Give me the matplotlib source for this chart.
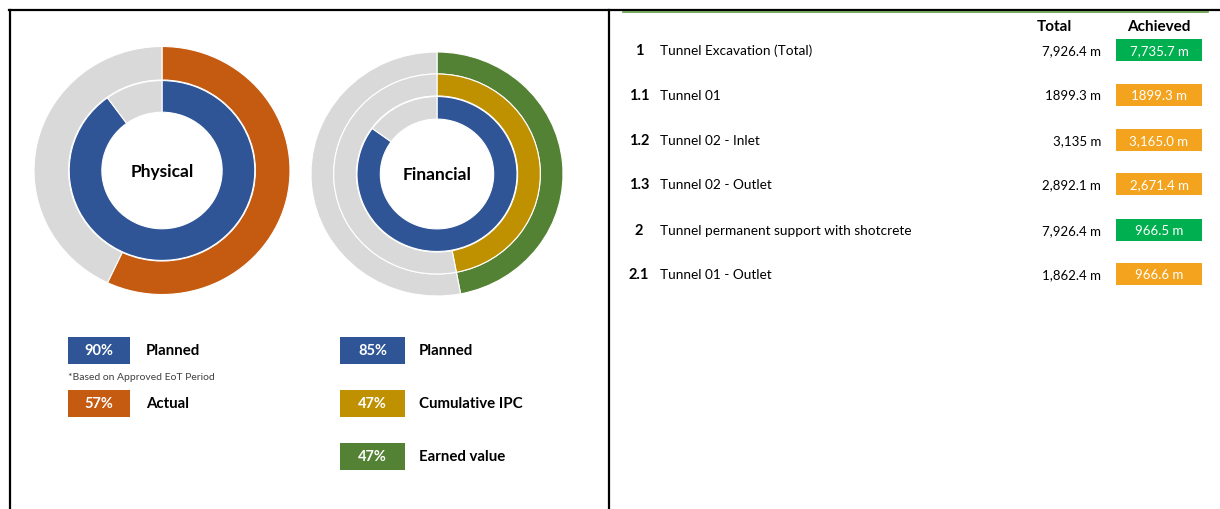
import matplotlib
matplotlib.use("Agg")
from matplotlib import pyplot as plt
from matplotlib import patches as mpatches

plt.rcParams["font.family"] = ["Lato", "DejaVu Sans"]

# physical progress
phys_labels = ["Planned", "Actual"]
phys_values = [90, 57]
phys_colors = ["#2F5597", "#C55A11"]

# financial progress
fin_labels = ["Planned", "Cumulative IPC", "Earned value"]
fin_values = [85, 47, 47]
fin_colors = ["#2F5597", "#BF9000", "#548235"]

# tunnel table
item_nos = ["1", "1.1", "1.2", "1.3", "2", "2.1"]
item_names = ["Tunnel Excavation (Total)", "Tunnel 01", "Tunnel 02 - Inlet",
              "Tunnel 02 - Outlet", "Tunnel permanent support with shotcrete",
              "Tunnel 01 - Outlet"]
totals = ["7,926.4 m", "1899.3 m", "3,135 m", "2,892.1 m", "7,926.4 m", "1,862.4 m"]
achieved = ["7,735.7 m", "1899.3 m", "3,165.0 m", "2,671.4 m", "966.5 m", "966.6 m"]
is_parent = [True, False, False, False, True, False]

GREY = "#D9D9D9"
W, H = 1220, 510

fig = plt.figure(figsize=(12.2, 5.1), dpi=100)
ax = fig.add_axes([0, 0, 1, 1])
ax.set_xlim(0, W)
ax.set_ylim(H, 0)
ax.axis("off")

# frame lines
ax.plot([9, W], [11, 11], color="black", lw=1.6)
ax.plot([10, 10], [11, H], color="black", lw=1.6)
ax.plot([609, 609], [11, H], color="black", lw=1.6)
ax.plot([623, 1208], [13, 13], color="#5E9640", lw=1.2)


def donut_axes(cx, cy, rx, ry):
    # the donuts in the source are a touch wider than tall
    return fig.add_axes([(cx - rx) / W, (H - cy - ry) / H, 2 * rx / W, 2 * ry / H])


def ring(a, val, col, radius, width):
    a.pie([val, 100 - val], colors=[col, GREY], radius=radius, startangle=90,
          counterclock=False, wedgeprops=dict(width=width, edgecolor="white", linewidth=0.8))


def finish(a, label):
    # pie resets the limits, so set them afterwards
    a.set_xlim(-1, 1)
    a.set_ylim(-1, 1)
    a.set_aspect("auto")
    a.axis("off")
    a.text(0, 0, label, ha="center", va="center", fontsize=12.5, fontweight="bold")


# Physical donut
pa = donut_axes(162, 171.5, 128, 124)
ring(pa, phys_values[1], phys_colors[1], 1.0, 0.27)
ring(pa, phys_values[0], phys_colors[0], 0.725, 0.255)
finish(pa, "Physical")

# Financial donut
fa = donut_axes(437, 175, 126, 122)
ring(fa, fin_values[2], fin_colors[2], 1.0, 0.18)
ring(fa, fin_values[1], fin_colors[1], 0.82, 0.18)
ring(fa, fin_values[0], fin_colors[0], 0.635, 0.185)
finish(fa, "Financial")


def legend_item(x, y, w, val, col, label, lx):
    ax.add_patch(mpatches.Rectangle((x, y - 13.5), w, 27, facecolor=col, edgecolor="none"))
    ax.text(x + w / 2, y, f"{val}%", ha="center", va="center", color="white",
            fontsize=10.5, fontweight="bold")
    ax.text(lx, y, label, ha="left", va="center", fontsize=10.8, fontweight="bold")


phys_rows = [351, 404]
for i in range(len(phys_values)):
    legend_item(68, phys_rows[i], 62, phys_values[i], phys_colors[i], phys_labels[i], 146)
ax.text(68, 378, "*Based on Approved EoT Period", ha="left", va="center",
        fontsize=7.5, color="#404040")

fin_rows = [351, 404, 457]
for i in range(len(fin_values)):
    legend_item(340, fin_rows[i], 65, fin_values[i], fin_colors[i], fin_labels[i], 419)

# table
ax.text(1054, 27, "Total", ha="center", va="center", fontsize=11, fontweight="bold")
ax.text(1159, 27, "Achieved", ha="center", va="center", fontsize=11, fontweight="bold")
row_y = [51, 96, 141, 185, 231, 275]
for i in range(len(item_nos)):
    y = row_y[i]
    ax.text(639, y, item_nos[i], ha="center", va="center", fontsize=10.5, fontweight="bold")
    ax.text(660, y, item_names[i], ha="left", va="center", fontsize=9.8)
    ax.text(1101, y, totals[i], ha="right", va="center", fontsize=9.5)
    col = "#00B050" if is_parent[i] else "#F3A31D"
    ax.add_patch(mpatches.Rectangle((1116, y - 11), 86, 22, facecolor=col, edgecolor="none"))
    ax.text(1159, y, achieved[i], ha="center", va="center", fontsize=9.5, color="white")

fig.savefig("out.png", dpi=100)
